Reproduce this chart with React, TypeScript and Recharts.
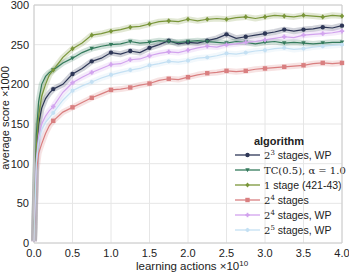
import React from 'react';
import { LineChart, Line, XAxis, YAxis, CartesianGrid, ReferenceLine, Customized } from 'recharts';

const xValues = [0, 0.03, 0.06, 0.1, 0.15, 0.2, 0.25, 0.375, 0.5, 0.625, 0.75, 0.875, 1.0, 1.125, 1.25, 1.375, 1.5, 1.625, 1.75, 1.875, 2.0, 2.125, 2.25, 2.375, 2.5, 2.625, 2.75, 2.875, 3.0, 3.125, 3.25, 3.375, 3.5, 3.625, 3.75, 3.875, 4.0];

const stages8WP = [2, 115, 150, 170, 182, 189, 194, 200, 213, 220, 229, 233, 240, 238, 242, 240, 246, 250, 255, 251, 253, 252, 255, 258, 263, 258, 260, 262, 264, 266, 269, 267, 269, 270, 272, 271, 274];
const tcAlpha = [3, 135, 178, 200, 210, 215, 218, 227, 233, 240, 245, 248, 250, 251, 254, 252, 253, 255, 254, 253, 254, 255, 254, 253, 252, 254, 253, 251, 253, 254, 252, 253, 252, 251, 252, 253, 253];
const oneStage = [3, 120, 160, 185, 200, 212, 218, 234, 245, 252, 262, 264, 267, 269, 272, 273, 276, 279, 280, 279, 282, 280, 282, 283, 282, 284, 285, 283, 285, 287, 286, 285, 287, 286, 285, 287, 286];
const stages16 = [2, 90, 113, 125, 138, 148, 154, 165, 171, 177, 183, 188, 193, 194, 196, 199, 201, 205, 207, 206, 209, 212, 214, 215, 217, 216, 217, 219, 220, 221, 222, 223, 224, 226, 227, 226, 227];
const stages16WP = [2, 105, 135, 150, 160, 167, 172, 190, 202, 209, 215, 220, 225, 226, 231, 232, 236, 239, 241, 240, 243, 246, 248, 247, 250, 251, 253, 254, 256, 258, 260, 259, 262, 263, 264, 265, 267];
const stages32WP = [2, 100, 128, 143, 152, 158, 164, 180, 192, 198, 203, 208, 212, 215, 218, 220, 224, 226, 229, 228, 230, 233, 234, 236, 239, 238, 240, 242, 243, 245, 246, 244, 245, 247, 248, 249, 250];

const xTicks = [0, 0.5, 1.0, 1.5, 2.0, 2.5, 3.0, 3.5, 4.0];
const yTicks = [0, 50, 100, 150, 200, 250, 300];

type Meta = { key: string; math: string; sup?: string; rest: string; color: string; marker: string };

const series: Meta[] = [
  { key: 's8wp', math: '2', sup: '3', rest: ' stages, WP', color: '#2e3757', marker: 'circle' },
  { key: 'tc', math: 'TC(0.5), \u03b1 = 1.0', rest: '', color: '#347a5c', marker: 'tri' },
  { key: 'one', math: '1', rest: ' stage (421-43)', color: '#7a963a', marker: 'diamond' },
  { key: 's16', math: '2', sup: '4', rest: ' stages', color: '#d97f80', marker: 'square' },
  { key: 's16wp', math: '2', sup: '4', rest: ' stages, WP', color: '#d2a3ee', marker: 'plus' },
  { key: 's32wp', math: '2', sup: '5', rest: ' stages, WP', color: '#c4e0f3', marker: 'hex' },
];

const valueLists: Record<string, number[]> = {
  s8wp: stages8WP,
  tc: tcAlpha,
  one: oneStage,
  s16: stages16,
  s16wp: stages16WP,
  s32wp: stages32WP,
};

const data = xValues.map((x, i) => {
  const row: Record<string, number> = { x };
  series.forEach((s) => {
    row[s.key] = valueLists[s.key][i];
  });
  return row;
});

function Marker({ kind, cx, cy, color }: { kind: string; cx: number; cy: number; color: string }) {
  const r = 2.2;
  if (kind === 'circle') return <circle cx={cx} cy={cy} r={r} fill={color} />;
  if (kind === 'square') return <rect x={cx - r} y={cy - r} width={2 * r} height={2 * r} fill={color} />;
  if (kind === 'tri')
    return <polygon points={`${cx - r},${cy - r * 0.8} ${cx + r},${cy - r * 0.8} ${cx},${cy + r}`} fill={color} />;
  if (kind === 'diamond')
    return <polygon points={`${cx},${cy - r * 1.15} ${cx + r},${cy} ${cx},${cy + r * 1.15} ${cx - r},${cy}`} fill={color} />;
  if (kind === 'plus')
    return (
      <g fill={color}>
        <rect x={cx - r} y={cy - 0.9} width={2 * r} height={1.8} />
        <rect x={cx - 0.9} y={cy - r} width={1.8} height={2 * r} />
      </g>
    );
  const pts = [0, 1, 2, 3, 4, 5]
    .map((k) => {
      const a = (Math.PI / 3) * k + Math.PI / 6;
      return `${cx + r * Math.cos(a)},${cy + r * Math.sin(a)}`;
    })
    .join(' ');
  return <polygon points={pts} fill={color} />;
}

function makeDot(s: Meta) {
  return (props: any) => {
    const { cx, cy, payload, index } = props;
    const q = payload.x * 4;
    if (payload.x <= 0 || Math.abs(q - Math.round(q)) > 1e-6 || cx == null || cy == null) {
      return <g key={`d-${s.key}-${index}`} />;
    }
    return (
      <g key={`d-${s.key}-${index}`}>
        <Marker kind={s.marker} cx={cx} cy={cy} color={s.color} />
      </g>
    );
  };
}

const sansFont = '"Liberation Sans", Arial, sans-serif';
const serifFont = '"DejaVu Serif", serif';

function Decorations() {
  const legendX = 235;
  const rowY = [155, 170, 185, 200, 215, 230];
  return (
    <g>
      <text x={9} y={118} transform="rotate(-90 9 118)" textAnchor="middle" fontFamily={sansFont} fontSize={11} fill="#222">
        average score ×1000
      </text>
      <text x={136} y={270} fontFamily={sansFont} fontSize={11.5} fill="#222">
        learning actions <tspan>×10</tspan>
        <tspan dy={-4} fontSize={8}>10</tspan>
      </text>
      <text x={279} y={145} textAnchor="middle" fontFamily={sansFont} fontSize={11} fontWeight="bold" fill="#222">
        algorithm
      </text>
      {series.map((s, i) => (
        <g key={s.key}>
          <line x1={legendX} x2={legendX + 25} y1={rowY[i]} y2={rowY[i]} stroke={s.color} strokeWidth={1.3} />
          <Marker kind={s.marker} cx={legendX + 12.5} cy={rowY[i]} color={s.color} />
          <text x={legendX + 29} y={rowY[i] + 3.8} fontSize={10.5} fill="#222">
            <tspan fontFamily={serifFont} fontSize={10}>{s.math}</tspan>
            {s.sup ? (
              <tspan fontFamily={serifFont} fontSize={7} dy={-4}>{s.sup}</tspan>
            ) : null}
            {s.rest ? (
              <tspan fontFamily={sansFont} dy={s.sup ? 4 : 0}>{s.rest}</tspan>
            ) : null}
          </text>
        </g>
      ))}
    </g>
  );
}

export default function App() {
  return (
    <div style={{ position: 'absolute', left: 0, top: 0, width: 349, height: 272, background: '#fff' }}>
      <LineChart width={349} height={272} data={data} margin={{ top: 5, right: 7, left: 0, bottom: 0 }}>
        <CartesianGrid stroke="#e6e6e6" strokeWidth={1} />
        <XAxis
          dataKey="x"
          type="number"
          domain={[0, 4]}
          ticks={xTicks}
          tickFormatter={(v: number) => v.toFixed(1)}
          tickLine={false}
          tickSize={0}
          tickMargin={6}
          height={29}
          axisLine={{ stroke: '#cccccc' }}
          tick={{ fontSize: 11, fill: '#222', fontFamily: sansFont }}
          interval={0}
        />
        <YAxis
          type="number"
          domain={[0, 300]}
          ticks={yTicks}
          tickLine={false}
          tickSize={0}
          tickMargin={5}
          width={34}
          axisLine={{ stroke: '#cccccc' }}
          tick={{ fontSize: 11, fill: '#222', fontFamily: sansFont }}
          interval={0}
        />
        <ReferenceLine y={300} stroke="#cccccc" />
        <ReferenceLine x={4} stroke="#cccccc" />
        {series.map((s) => (
          <Line
            key={`band-${s.key}`}
            dataKey={s.key}
            stroke={s.color}
            strokeWidth={6}
            strokeOpacity={0.22}
            strokeLinejoin="round"
            dot={false}
            activeDot={false}
            isAnimationActive={false}
            type="linear"
            legendType="none"
          />
        ))}
        {series.map((s) => (
          <Line
            key={`line-${s.key}`}
            dataKey={s.key}
            stroke={s.color}
            strokeWidth={1.2}
            dot={makeDot(s)}
            activeDot={false}
            isAnimationActive={false}
            type="linear"
          />
        ))}
        <Customized component={Decorations} />
      </LineChart>
    </div>
  );
}
